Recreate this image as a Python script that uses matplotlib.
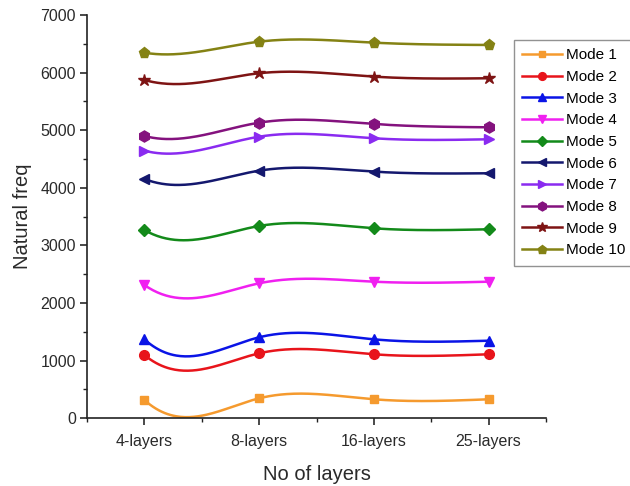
import numpy as np
import matplotlib
matplotlib.use("Agg")
import matplotlib.pyplot as plt
from matplotlib.ticker import MultipleLocator, FixedLocator

plt.rcParams['font.family'] = ['Liberation Sans', 'DejaVu Sans']

# data
layers = ['4-layers', '8-layers', '16-layers', '25-layers']
mode1 = [318, 347, 330, 330]
mode2 = [1099, 1128, 1111, 1111]
mode3 = [1371, 1406, 1371, 1347]
mode4 = [2314, 2343, 2371, 2371]
mode5 = [3268, 3338, 3298, 3281]
mode6 = [4154, 4298, 4281, 4253]
mode7 = [4645, 4888, 4860, 4843]
mode8 = [4900, 5131, 5108, 5051]
mode9 = [5872, 5989, 5930, 5902]
mode10 = [6346, 6537, 6520, 6480]
# slope of the spline leaving the first point (per category step)
start_slope = [-1800, -1650, -1800, -1400, -1150, -780, -520, -520, -560, -330]

series = [mode1, mode2, mode3, mode4, mode5, mode6, mode7, mode8, mode9, mode10]
names = ['Mode %d' % (i + 1) for i in range(10)]
colors = ['#F59A2E', '#E8141B', '#0A14E6', '#F020F0', '#138A1A',
          '#14186E', '#8A2BF0', '#84127E', '#7E1414', '#848214']
markers = ['s', 'o', '^', 'v', 'D', '<', '>', 'h', '*', 'p']
msizes = [6, 7, 7, 7, 6, 7, 7, 8, 9, 8]


def spline(y, s0, n=80):
    """cubic spline through y at x=0..N-1, clamped slope at start, natural end"""
    y = np.asarray(y, float)
    N = len(y)
    A = np.zeros((N, N))
    b = np.zeros(N)
    A[0, 0], A[0, 1] = 2, 1
    b[0] = 6 * ((y[1] - y[0]) - s0)
    for i in range(1, N - 1):
        A[i, i - 1], A[i, i], A[i, i + 1] = 1, 4, 1
        b[i] = 6 * (y[i + 1] - 2 * y[i] + y[i - 1])
    A[-1, -1] = 1
    M = np.linalg.solve(A, b)
    xs, ys = [], []
    for i in range(N - 1):
        t = np.linspace(0, 1, n)
        s = (M[i] * (1 - t) ** 3 / 6 + M[i + 1] * t ** 3 / 6
             + (y[i] - M[i] / 6) * (1 - t) + (y[i + 1] - M[i + 1] / 6) * t)
        xs.append(i + t)
        ys.append(s)
    return np.concatenate(xs), np.concatenate(ys)


fig = plt.figure(figsize=(6.3, 4.86), dpi=100)
ax = fig.add_axes([87 / 630, 1 - 418.3 / 486, (546 - 87) / 630, (418.3 - 15) / 486])

x = np.arange(len(layers))
for y, s0, c, m, ms, lab in zip(series, start_slope, colors, markers, msizes, names):
    xs, ys = spline(y, s0)
    ax.plot(xs, ys, color=c, lw=1.8, zorder=2)
    ax.plot(x, y, linestyle='none', marker=m, color=c, ms=ms, zorder=3)
    ax.plot([], [], color=c, lw=1.8, marker=m, ms=ms, label=lab)

ax.set_xlim(-0.5, 3.5)
ax.set_ylim(0, 7000)
ax.set_xticks(x)
ax.set_xticklabels(layers)
ax.xaxis.set_minor_locator(FixedLocator([-0.5, 0.5, 1.5, 2.5, 3.5]))
ax.yaxis.set_major_locator(MultipleLocator(1000))
ax.yaxis.set_minor_locator(MultipleLocator(500))
for s in ['top', 'right']:
    ax.spines[s].set_visible(False)
for s in ['left', 'bottom']:
    ax.spines[s].set_linewidth(1.2)
    ax.spines[s].set_color('#222222')
ax.tick_params(which='major', direction='out', length=5, width=1.2,
               labelsize=11.5, colors='#2a2a2a', pad=3)
ax.tick_params(axis='x', which='major', pad=6)
ax.tick_params(which='minor', direction='out', length=3, width=1.0, colors='#222222')
ax.set_xlabel('No of layers', fontsize=14.5, color='#2a2a2a', labelpad=12)
ax.set_ylabel('Natural freq', fontsize=14.5, color='#2a2a2a', labelpad=6)

leg = fig.legend(loc='upper left', bbox_to_anchor=(514 / 630, 1 - 40 / 486),
                 fontsize=11, frameon=True, fancybox=False, handlelength=2.6,
                 labelspacing=0.5, borderpad=0.55, handletextpad=0.25,
                 borderaxespad=0, markerscale=0.8)
leg.get_frame().set_edgecolor('#777777')
leg.get_frame().set_linewidth(1.0)

fig.savefig('out.png', dpi=100)
